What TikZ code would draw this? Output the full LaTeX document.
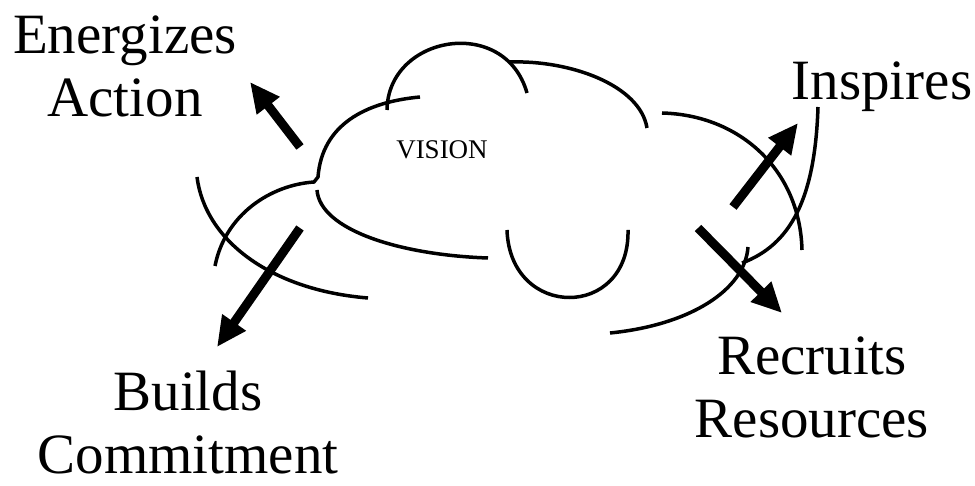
\documentclass[tikz,border=0pt]{standalone}
\usepackage{fontspec}
\setmainfont{Liberation Serif}
\usepackage{tikz}
\usetikzlibrary{arrows.meta}

\begin{document}
\begin{tikzpicture}[x=1pt, y=-1pt,
    cloudline/.style={line width=3.5pt},
    pushline/.style={line width=9pt, -{Triangle[length=30pt, width=27pt]}},
    label/.style={font=\fontsize{57}{63}\selectfont, align=center, inner sep=0pt}]
  \useasboundingbox (0,0) rectangle (975,486);

  % cloud
  \draw[cloudline] (197,177) .. controls (205,240) and (270,290) .. (368,298);
  \draw[cloudline] (215,266) .. controls (225,215) and (270,185) .. (314,182) -- (318,177)
                             .. controls (322,125) and (365,102) .. (420,97);
  \draw[cloudline] (387,110) .. controls (388,35) and (505,15) .. (527,93);
  \draw[cloudline] (510,62) .. controls (570,60) and (640,85) .. (647,128);
  \draw[cloudline] (317,190) .. controls (320,230) and (400,255) .. (488,258);
  \draw[cloudline] (507,230) .. controls (510,320) and (630,320) .. (628,230);
  \draw[cloudline] (662,113) .. controls (740,115) and (800,170) .. (802,250);
  \draw[cloudline] (818,107) .. controls (815,200) and (790,245) .. (742,263);
  \draw[cloudline] (610,333) .. controls (690,325) and (745,290) .. (748,247);

  \node[font=\fontsize{27}{30}\selectfont, inner sep=0pt] (vision) at (442,150) {VISION};

  % labels
  \node[label] (energizes) at (125,66) {Energizes\\Action};
  \node[label, anchor=base] (inspires) at (882,100) {Inspires};
  \node[label] (recruits) at (812,387) {Recruits\\Resources};
  \node[label] (builds) at (188,423) {Builds\\Commitment};

  % arrows
  \coordinate (e1) at (300,147);
  \coordinate (e2) at (250,82);
  \coordinate (b1) at (300,228);
  \coordinate (b2) at (217,347);
  \coordinate (i1) at (733,207);
  \coordinate (i2) at (798,123);
  \coordinate (r1) at (698,228);
  \coordinate (r2) at (782,313);

  \draw[pushline] (e1) -- (e2);
  \draw[pushline] (b1) -- (b2);
  \draw[pushline] (i1) -- (i2);
  \draw[pushline] (r1) -- (r2);
\end{tikzpicture}
\end{document}
